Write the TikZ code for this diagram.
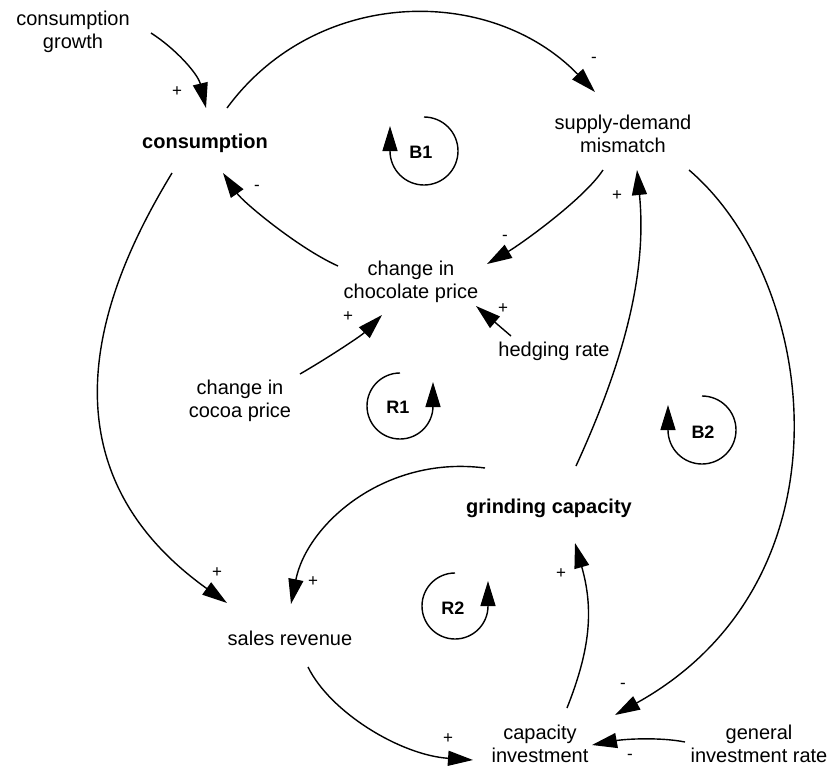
\documentclass[tikz,border=0pt]{standalone}
\usepackage{fontspec}
\setmainfont{Liberation Sans}
\usetikzlibrary{arrows.meta}
\begin{document}
\begin{tikzpicture}[x=1pt,y=1pt,
  var/.style={align=center,inner sep=0pt,font=\fontsize{20}{23.5}\selectfont},
  keyvar/.style={var,font=\fontsize{20}{23.5}\selectfont\bfseries},
  sign/.style={inner sep=0pt,font=\fontsize{17}{20}\selectfont},
  looptag/.style={inner sep=0pt,font=\fontsize{18}{21}\selectfont\bfseries},
  link/.style={line width=1.4pt,-{Triangle[length=25pt,width=15pt]}},
  loopmark/.style={line width=1.4pt,-{Triangle[length=25pt,width=15pt]}}
]
\useasboundingbox (0,0) rectangle (836,-769);

% variables
\node[var]    (cg)     at (73,-32)   {consumption\\growth};
\node[keyvar] (cons)   at (205,-143) {consumption};
\node[var]    (sdm)    at (623,-134) {supply-demand\\mismatch};
\node[var]    (ccp)    at (411,-282) {change in\\chocolate price};
\node[var]    (hedge)  at (554,-351) {hedging rate};
\node[var]    (cocoa)  at (240,-401) {change in\\cocoa price};
\node[keyvar] (grind)  at (549,-508) {grinding capacity};
\node[var]    (sales)  at (290,-638) {sales revenue};
\node[var]    (capinv) at (540,-744) {capacity\\investment};
\node[var]    (gir)    at (759,-744) {general\\investment rate};

% causal links
\draw[link] ([shift={(78,-1)}]cg.center) .. controls (176,-49) and (198,-74) .. ([shift={(1,35)}]cons.center);
\draw[link] ([shift={(22,35)}]cons.center) .. controls (316,13) and (490,16) .. ([shift={(-28,42)}]sdm.center);
\draw[link] ([shift={(-20,-36)}]sdm.center) .. controls (584,-199) and (521,-244) .. ([shift={(76,18)}]ccp.center);
\draw[link] ([shift={(-73,16)}]ccp.center) .. controls (298,-248) and (243,-202) .. ([shift={(18,-30)}]cons.center);
\draw[link] ([shift={(60,27)}]cocoa.center) .. controls (326,-359) and (361,-336) .. ([shift={(-29,-33)}]ccp.center);
\draw[link] ([shift={(-43,15)}]hedge.center) -- ([shift={(65,-24)}]ccp.center);
\draw[link] ([shift={(-33,-30)}]cons.center) .. controls (117,-264) and (20,-455) .. ([shift={(-63,35)}]sales.center);
\draw[link] ([shift={(-64,40)}]grind.center) .. controls (385,-455) and (307,-524) .. ([shift={(1,34)}]sales.center);
\draw[link] ([shift={(27,42)}]grind.center) .. controls (626,-357) and (647,-270) .. ([shift={(14,-36)}]sdm.center);
\draw[link] ([shift={(66,-36)}]sdm.center) .. controls (818,-280) and (858,-580) .. ([shift={(75,29)}]capinv.center);
\draw[link] ([shift={(27,36)}]capinv.center) .. controls (590,-650) and (594,-610) .. ([shift={(26,-35)}]grind.center);
\draw[link] ([shift={(18,-29)}]sales.center) .. controls (330,-712) and (400,-755) .. ([shift={(-67,-16)}]capinv.center);
\draw[link] ([shift={(-74,2)}]gir.center) .. controls (660,-737) and (625,-739) .. ([shift={(52,-1)}]capinv.center);

% polarity signs
\node[sign] (s1)  at (177,-92)  {+};
\node[sign] (s2)  at (594,-60)  {-};
\node[sign] (s3)  at (505,-238) {-};
\node[sign] (s4)  at (257,-188) {-};
\node[sign] (s5)  at (348,-317) {+};
\node[sign] (s6)  at (503,-309) {+};
\node[sign] (s7)  at (217,-573) {+};
\node[sign] (s8)  at (313,-582) {+};
\node[sign] (s9)  at (617,-196) {+};
\node[sign] (s10) at (623,-686) {-};
\node[sign] (s11) at (561,-574) {+};
\node[sign] (s12) at (448,-739) {+};
\node[sign] (s13) at (630,-757) {-};

% loop markers
\node[looptag] (b1) at (421,-152) {B1};
\draw[loopmark] ([shift={(3,35)}]b1.center) arc[start angle=90,end angle=-180,radius=34] -- ++(0,25);
\node[looptag] (r1) at (398,-407) {R1};
\draw[loopmark] ([shift={(2,34)}]r1.center) arc[start angle=90,end angle=360,radius=33] -- ++(0,24);
\node[looptag] (r2) at (453,-608) {R2};
\draw[loopmark] ([shift={(2,35)}]r2.center) arc[start angle=90,end angle=360,radius=33] -- ++(0,25);
\node[looptag] (b2) at (703,-432) {B2};
\draw[loopmark] ([shift={(-1,36)}]b2.center) arc[start angle=90,end angle=-180,radius=34] -- ++(0,25);
\end{tikzpicture}
\end{document}
